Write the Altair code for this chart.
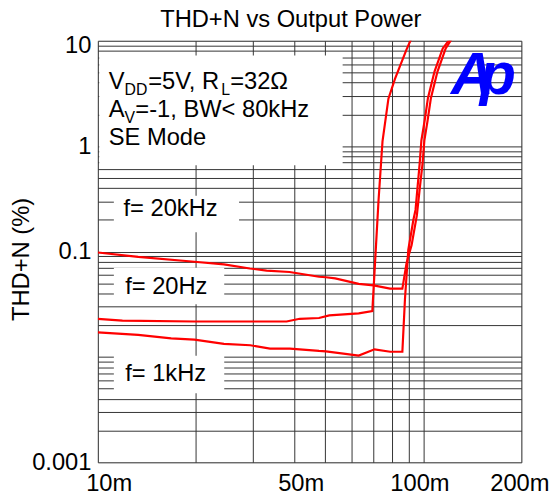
import altair as alt
import pandas as pd

# ---- curve data (Output power in W, THD+N in %) ----
top_x = [0.01, 0.0133, 0.0198, 0.0244, 0.0293, 0.033, 0.0388, 0.0478, 0.0502, 0.0536, 0.0633,
         0.0703, 0.079, 0.0862, 0.0888, 0.092, 0.0955, 0.0975, 0.0994, 0.1007, 0.103, 0.1055,
         0.1105, 0.1171, 0.1236]
top_y = [0.098, 0.089, 0.080, 0.0756, 0.069, 0.066, 0.064, 0.0576, 0.057, 0.0556, 0.0494,
         0.0478, 0.0445, 0.0445, 0.078, 0.115, 0.22, 0.40, 0.68, 1.13, 1.74, 2.87,
         5.1, 8.46, 11.0]

mid_x = [0.01, 0.0119, 0.0198, 0.038, 0.0417, 0.0478, 0.0514, 0.0633, 0.0697, 0.0728,
         0.0749, 0.0781, 0.0818, 0.0888, 0.0925]
mid_y = [0.023, 0.0221, 0.0217, 0.0217, 0.023, 0.0234, 0.0248, 0.0259, 0.0272, 0.30,
         1.11, 2.82, 4.34, 8.29, 11.0]

bot_x = [0.01, 0.0133, 0.0168, 0.0198, 0.0244, 0.0294, 0.0338, 0.0389, 0.0478, 0.0502,
         0.0633, 0.0708, 0.0791, 0.0862, 0.0878, 0.0899, 0.0932, 0.0946, 0.0974, 0.0986,
         0.1009, 0.1033, 0.1082, 0.1147, 0.1210]
bot_y = [0.0171, 0.0162, 0.0150, 0.0146, 0.0133, 0.0129, 0.0120, 0.0120, 0.0114, 0.0113,
         0.0103, 0.0118, 0.0112, 0.0112, 0.0355, 0.104, 0.20, 0.248, 0.68, 1.13,
         1.74, 2.87, 5.1, 8.46, 10.5]

series_names = ["f= 20kHz", "f= 20Hz", "f= 1kHz"]

# ---- axis ticks / grid ----
x_grid = [0.01, 0.02, 0.03, 0.04, 0.05, 0.06, 0.07, 0.08, 0.09, 0.1, 0.2]
y_grid = [0.001, 0.002, 0.003, 0.004, 0.005, 0.006, 0.007, 0.008, 0.009,
          0.01, 0.02, 0.03, 0.04, 0.05, 0.06, 0.07, 0.08, 0.09,
          0.1, 0.2, 0.3, 0.4, 0.5, 0.6, 0.7, 0.8, 0.9,
          1, 2, 3, 4, 5, 6, 7, 8, 9, 10]

# ---- annotation boxes (white) ----
box_x1 = [0.0101, 0.0112, 0.0112, 0.0112]
box_x2 = [0.0565, 0.02715, 0.02445, 0.02445]
box_y1 = [7.235, 0.3383, 0.0700, 0.01027]
box_y2 = [0.660, 0.1523, 0.03154, 0.004525]

# ---- curve labels ----
lab_text = ["f= 20kHz", "f= 20Hz", "f= 1kHz"]
lab_x = [0.01199, 0.01213, 0.01213]
lab_y = [0.2501, 0.04649, 0.00682]

# ---- logo ----
logo_text = ["A", "p"]
logo_x = [0.1415, 0.1695]
logo_y = [3.14, 3.14]

FONT = "Liberation Sans"
FS = 24

rows = []
for name, xs, ys in zip(series_names, [top_x, mid_x, bot_x], [top_y, mid_y, bot_y]):
    for i, (a, b) in enumerate(zip(xs, ys)):
        rows.append({"series": name, "x": a, "y": b, "i": i})
curves = pd.DataFrame(rows)

xscale = alt.Scale(type="log", domain=[0.01, 0.2], nice=False)
yscale = alt.Scale(type="log", domain=[0.001, 10], nice=False)

x_label_expr = ("datum.value == 0.01 ? '10m' : datum.value == 0.05 ? '50m' : "
                "datum.value == 0.1 ? '100m' : datum.value == 0.2 ? '200m' : ''")
y_label_expr = ("datum.value == 10 ? '10' : datum.value == 1 ? '1' : datum.value == 0.1 ? '0.1' : "
                "datum.value == 0.001 ? '0.001' : ''")

x_axis = alt.Axis(values=x_grid, labelExpr=x_label_expr, grid=True, ticks=False, tickSize=0,
                  domain=False, labelFont=FONT, labelFontSize=FS, labelColor="black",
                  labelPadding=10, labelBaseline="top", labelFlush=False, labelOverlap=False,
                  gridColor="#333333", gridWidth=1, gridOpacity=1, title=None,
                  labelOffset={"condition": [{"test": "datum.value == 0.01", "value": 11},
                                             {"test": "datum.value == 0.05", "value": -25},
                                             {"test": "datum.value == 0.1", "value": -4},
                                             {"test": "datum.value == 0.2", "value": -2}],
                               "value": 0})
y_axis = alt.Axis(values=y_grid, labelExpr=y_label_expr, grid=True, ticks=False, tickSize=0,
                  domain=False, labelFont=FONT, labelFontSize=FS, labelColor="black",
                  labelPadding=7, labelFlush=False, labelOverlap=False,
                  gridColor="#333333", gridWidth=1, gridOpacity=1,
                  title="THD+N (%)", titleFont=FONT, titleFontSize=FS, titleFontWeight="normal",
                  titleColor="black", titleX=-77, titleY=221, titleAngle=-90,
                  titleAlign="center", titleBaseline="middle",
                  labelOffset={"condition": [{"test": "datum.value == 10", "value": 5}],
                               "value": 0})

base = alt.Chart(curves)

grid_layer = base.mark_line(opacity=0).encode(
    x=alt.X("x:Q", scale=xscale, axis=x_axis),
    y=alt.Y("y:Q", scale=yscale, axis=y_axis),
)

boxes = alt.Chart(pd.DataFrame({"x1": box_x1, "x2": box_x2, "y1": box_y1, "y2": box_y2})).mark_rect(
    fill="white", opacity=1
).encode(
    x=alt.X("x1:Q", scale=xscale), x2="x2:Q",
    y=alt.Y("y1:Q", scale=yscale), y2="y2:Q",
)

lines = base.mark_line(color="#FF0000", strokeWidth=2.2, clip=True).encode(
    x=alt.X("x:Q", scale=xscale),
    y=alt.Y("y:Q", scale=yscale),
    detail="series:N",
    order="i:Q",
)

labels = alt.Chart(pd.DataFrame({"t": lab_text, "x": lab_x, "y": lab_y})).mark_text(
    align="left", baseline="middle", font=FONT, fontSize=FS, color="black"
).encode(x=alt.X("x:Q", scale=xscale), y=alt.Y("y:Q", scale=yscale), text="t:N")


def piece(text, x, y, dx, dy, size):
    return alt.Chart(pd.DataFrame({"t": [text], "x": [x], "y": [y]})).mark_text(
        align="left", baseline="alphabetic", font=FONT, fontSize=size, color="black", dx=dx, dy=dy
    ).encode(x=alt.X("x:Q", scale=xscale), y=alt.Y("y:Q", scale=yscale), text="t:N")


ax = 0.0108
l1, l2, l3 = 3.498, 1.900, 1.032
cond = [
    piece("V", ax, l1, 0, 0, FS),
    piece("DD", ax, l1, 16, 6.5, 16),
    piece("=5V, R", ax, l1, 40, 0, FS),
    piece("L", ax, l1, 114, 6.5, 16),
    piece("=32\u03a9", ax, l1, 123, 0, FS),
    piece("A", ax, l2, 0, 0, FS),
    piece("V", ax, l2, 16, 6.5, 16),
    piece("=-1, BW< 80kHz", ax, l2, 27, 0, FS),
    piece("SE Mode", ax, l3, 0, 0, FS),
]

logo = alt.Chart(pd.DataFrame({"t": logo_text, "x": logo_x, "y": logo_y})).mark_text(
    align="center", baseline="alphabetic", font=FONT,
    fontSize=60, fontWeight="bold", fontStyle="italic", color="#0000FF"
).encode(x=alt.X("x:Q", scale=xscale), y=alt.Y("y:Q", scale=yscale), text="t:N")

chart = alt.layer(grid_layer, boxes, lines, labels, *cond, logo).properties(
    width=429, height=427,
    title=alt.Title("THD+N vs Output Power", font=FONT, fontSize=FS, fontWeight="normal",
                    color="black", anchor="middle", dx=-19, offset=2),
    padding={"left": 91, "top": 30, "right": 28, "bottom": 36},
    autosize=alt.AutoSizeParams(type="none"),
).configure_view(stroke="black", strokeWidth=2).configure(background="white")

chart.save("out.html", embed_options={"renderer": "svg", "actions": False})
